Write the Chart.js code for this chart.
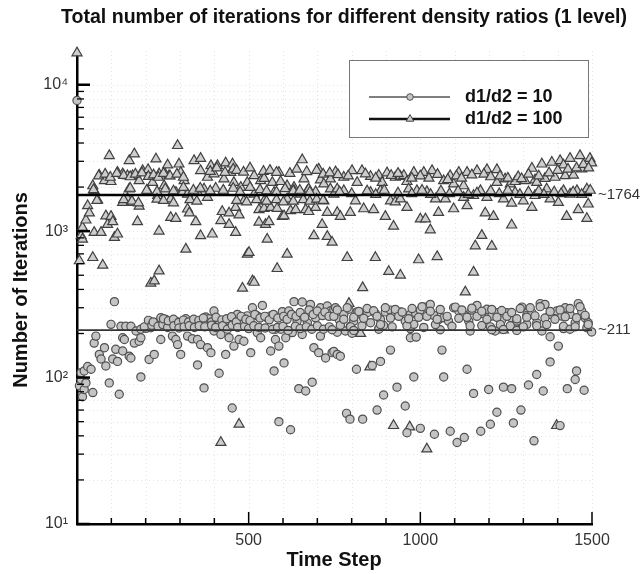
<!DOCTYPE html>
<html>
<head>
<meta charset="utf-8">
<script src="https://cdn.jsdelivr.net/npm/chart.js@4/dist/chart.umd.min.js"></script>
<style>
  html, body { margin: 0; padding: 0; background: #fff; }
  canvas { display: block; }
</style>
</head>
<body>
<canvas id="iterChart" width="640" height="574"></canvas>
<script>
// [time step, iterations]
const ratio10 = [
  [0,7800],[7,88],[12,97],[12,108],[16,74],[21,83],[21,111],[26,92],[31,119],[41,114],[46,79],
  [50,172],[55,192],[65,144],[70,134],[80,160],[84,120],[94,92],[99,231],[104,134],[109,330],
  [113,156],[118,129],[123,77],[128,224],[133,152],[133,187],[138,182],[142,224],[152,140],
  [157,224],[157,136],[167,172],[172,208],[181,177],[186,214],[186,187],[186,101],[201,217],
  [210,133],[215,219],[225,144],[230,226],[244,256],[244,182],[259,249],[273,237],[278,192],
  [288,243],[288,182],[293,168],[302,226],[302,144],[317,252],[322,192],[331,237],[336,184],
  [346,231],[351,182],[351,122],[360,231],[360,168],[370,85],[375,259],[380,160],[385,252],
  [390,148],[399,285],[399,208],[409,231],[414,107],[419,197],[428,237],[433,144],[443,243],
  [443,187],[452,62],[457,224],[457,164],[467,270],[472,182],[482,243],[486,177],[496,264],
  [506,148],[511,300],[525,264],[525,203],[535,187],[540,311],[554,256],[564,264],[564,152],
  [574,111],[578,214],[578,182],[588,164],[588,50],[593,214],[598,282],[603,126],[608,187],
  [617,285],[622,44],[627,203],[632,330],[641,243],[646,84],[656,328],[656,197],[666,81],
  [671,237],[680,316],[685,93],[690,160],[695,256],[704,148],[709,300],[709,192],[724,136],
  [729,308],[738,285],[743,148],[748,293],[748,151],[753,300],[758,204],[758,144],[763,250],
  [767,140],[777,270],[782,208],[785,57],[792,293],[795,52],[796,224],[801,201],[806,243],
  [814,114],[816,281],[830,266],[832,52],[845,277],[855,237],[860,121],[869,274],[874,60],
  [879,216],[884,249],[884,129],[893,227],[893,76],[898,281],[913,289],[913,154],[927,274],
  [932,86],[942,281],[956,243],[956,64],[961,42],[971,270],[971,216],[971,187],[981,231],
  [981,101],[986,277],[988,189],[1000,289],[1000,45],[1015,303],[1029,316],[1039,266],[1041,41],
  [1053,249],[1058,212],[1063,154],[1068,256],[1068,101],[1082,243],[1087,43],[1097,300],
  [1107,36],[1112,285],[1126,270],[1128,39],[1136,114],[1141,243],[1145,208],[1150,289],
  [1155,78],[1165,311],[1176,43],[1179,274],[1179,227],[1194,293],[1199,83],[1204,48],
  [1208,263],[1218,208],[1223,277],[1223,58],[1237,247],[1242,86],[1252,277],[1266,256],
  [1266,84],[1271,49],[1276,219],[1281,243],[1293,60],[1296,303],[1310,266],[1310,231],
  [1315,89],[1325,277],[1331,37],[1339,237],[1339,105],[1349,320],[1354,208],[1358,81],
  [1363,316],[1378,270],[1378,190],[1378,128],[1397,285],[1402,164],[1407,47],[1412,263],
  [1417,216],[1422,300],[1428,84],[1436,270],[1451,237],[1451,97],[1455,111],[1460,320],
  [1470,285],[1477,82],[1480,256],[1485,219],[1489,237],[1499,205],
  // dense band, left half
  [196,222],[208,246],[218,228],[222,240],[236,224],[250,230],[252,252],[264,220],[266,244],
  [281,250],[282,226],[296,238],[297,218],[310,247],[312,222],[325,240],[327,226],[340,250],
  [342,220],[355,246],[356,226],[368,255],[372,222],[392,240],[392,228],[404,220],[405,258],
  [422,248],[424,226],[436,252],[438,214],[450,260],[452,228],[464,240],[468,220],[478,262],
  [488,224],[492,250],[500,216],[504,245],[515,226],[518,270],[530,220],[533,255],[547,262],
  [548,218],[560,248],[570,214],[572,270],[584,220],[585,255],[600,224],[602,262],[612,250],
  [615,210],[625,270],[636,224],[638,262],[650,278],[650,216],[663,258],[668,222],[676,290],
  [684,214],[688,270],[700,285],[700,226],[715,265],[718,214],[722,280],[734,262],[735,222],
  // dense band, right half
  [743,212],[748,262],[758,290],[767,228],[777,250],[787,300],[797,222],[806,258],[806,210],
  [821,283],[830,226],[835,254],[845,296],[864,286],[874,262],[879,214],[884,230],[898,300],
  [913,255],[918,222],[927,292],[937,262],[947,280],[961,226],[966,252],[976,296],[995,258],
  [1005,305],[1010,220],[1019,262],[1029,284],[1044,230],[1049,250],[1058,292],[1078,262],
  [1092,224],[1102,303],[1112,254],[1121,290],[1136,258],[1145,226],[1150,298],[1165,262],
  [1179,284],[1194,250],[1204,222],[1208,292],[1208,212],[1223,258],[1233,230],[1237,287],
  [1242,213],[1252,262],[1262,226],[1266,278],[1281,252],[1281,210],[1291,296],[1300,222],
  [1310,258],[1320,300],[1334,264],[1339,226],[1349,305],[1363,255],[1368,230],[1378,283],
  [1392,250],[1407,290],[1417,224],[1422,260],[1436,296],[1436,214],[1451,222],[1455,256],
  [1465,305],[1480,266],[1489,230]
];

const ratio100 = [
  [0,16500],[7,627],[12,930],[16,1060],[16,880],[26,1190],[31,1490],[36,1330],[46,2040],[46,660],
  [50,1890],[50,980],[60,1630],[65,2410],[70,980],[75,585],[80,2210],[84,1270],[89,1110],
  [94,3280],[99,2180],[99,1260],[104,1160],[109,905],[118,2520],[118,955],[133,2460],[133,1570],
  [147,2390],[147,1670],[152,3030],[152,1940],[162,2390],[162,1570],[167,3370],[176,1160],
  [181,2210],[181,1480],[191,2590],[205,1890],[207,2630],[215,441],[220,2150],[225,457],
  [230,3110],[235,1750],[239,2460],[239,1000],[239,535],[254,2520],[254,2040],[264,2830],
  [268,2390],[273,1660],[273,1240],[288,1840],[288,1220],[293,3840],[297,2870],[302,2520],
  [307,1840],[312,2210],[317,753],[322,1790],[322,1415],[327,1330],[341,3030],[346,1160],
  [351,1840],[360,3140],[360,2590],[360,930],[370,1940],[380,2330],[380,1700],[390,2800],
  [394,955],[399,2460],[404,1960],[409,2800],[419,1180],[419,36],[423,1360],[428,2270],
  [428,1860],[433,2920],[443,1330],[443,1110],[448,2520],[453,2870],[457,2150],[462,1450],
  [462,980],[472,1290],[472,48],[477,1990],[482,407],[486,1610],[496,2150],[496,696],[501,715],
  [511,457],[516,2390],[516,1790],[516,447],[530,1400],[530,1150],[535,2210],[545,2290],
  [545,1610],[545,1430],[549,1110],[554,880],[559,1160],[564,1450],[569,2150],[574,1840],
  [583,1430],[583,555],[588,2520],[593,2180],[598,1260],[603,1270],[612,2040],[612,1660],
  [612,696],[622,1380],[632,1990],[632,1890],[637,1400],[651,1790],[656,3070],[661,2270],
  [666,1400],[671,1890],[675,1940],[675,1360],[690,930],[695,1860],[695,1450],[704,2650],
  [709,2240],[714,1110],[719,2100],[719,1610],[729,1340],[729,920],[738,2270],[738,1940],
  [743,840],[748,1790],[753,2540],[758,1940],[758,1340],[767,1260],[777,2330],[777,1890],
  [787,660],[792,321],[796,1340],[801,2590],[811,1610],[816,2150],[826,200],[830,2590],
  [832,411],[835,1420],[853,118],[855,2360],[855,1840],[864,1400],[869,660],[879,2410],
  [884,1890],[889,2150],[898,1260],[903,2500],[908,530],[913,1610],[922,1080],[922,47],
  [927,2330],[927,1580],[942,2360],[942,1660],[942,500],[952,2400],[961,2180],[961,1450],
  [966,1940],[969,46],[981,2520],[990,1890],[995,637],[1000,1210],[1010,2520],[1015,1210],
  [1019,1860],[1019,32.5],[1029,1020],[1034,2590],[1044,1660],[1049,670],[1053,1340],
  [1068,2210],[1073,1660],[1087,2390],[1097,2100],[1097,1420],[1112,2520],[1126,2040],
  [1126,1700],[1131,384],[1136,2520],[1136,1490],[1155,1750],[1155,525],[1160,793],[1165,2590],
  [1175,1890],[1179,935],[1189,1330],[1194,2630],[1194,1700],[1208,790],[1213,1260],[1223,2630],
  [1223,2150],[1242,1660],[1242,211],[1247,2270],[1262,2100],[1266,1550],[1266,1100],
  [1276,2180],[1276,1840],[1300,1610],[1305,2210],[1325,2685],[1325,1450],[1334,2240],
  [1334,1750],[1339,2150],[1354,2870],[1363,2290],[1368,1940],[1378,1660],[1383,2950],
  [1392,2330],[1397,47],[1402,1570],[1407,3030],[1417,2830],[1417,1890],[1422,2390],[1426,1260],
  [1436,3140],[1436,1790],[1446,2410],[1456,1890],[1460,1400],[1465,3280],[1470,2660],
  [1480,1840],[1485,1940],[1485,1220],[1489,1530],[1494,3140],[1499,2920],
  // dense band, left half
  [48,1920],[58,1620],[63,2380],[82,2450],[97,2330],[116,2480],[136,2400],[136,1640],
  [155,2350],[155,1960],[160,1600],[170,2450],[179,1560],[189,2500],[203,1900],[208,2360],
  [223,2420],[233,1860],[233,1650],[237,2330],[252,2480],[252,1620],[257,1940],[271,2380],
  [281,1880],[281,1560],[291,2450],[310,2330],[310,1990],[329,1640],[339,1900],[349,1600],
  [359,1960],[388,1880],[388,2560],[407,2700],[426,1900],[431,2520],[455,1960],[455,2650],
  [465,1620],[465,2600],[475,1850],[485,2530],[494,1580],[504,1990],[504,2700],[523,1640],
  [533,1920],[543,2560],[552,1880],[552,1600],[562,2600],[581,1850],[581,1640],[581,2520],
  [601,1580],[606,1950],[620,2480],[630,1880],[630,1600],[640,2650],[649,1900],[659,1640],
  [669,2550],[678,1850],[678,1600],[698,2600],[698,1650],[717,1620],[717,2450],[736,2500],
  // dense band, right half
  [760,2430],[765,1850],[790,2380],[800,1800],[840,2460],[845,1880],[870,2300],[870,1780],
  [895,1900],[915,2400],[935,2480],[935,1820],[975,2300],[975,1800],[1000,2380],[1005,1900],
  [1025,2300],[1030,1780],[1050,2440],[1060,1880],[1080,2250],[1085,1800],[1105,2380],
  [1110,1880],[1120,2300],[1140,1780],[1150,2420],[1165,1820],[1185,2450],[1205,2350],
  [1205,1880],[1230,1800],[1232,2380],[1255,2300],[1255,1900],[1285,2350],[1290,1780],
  [1295,2280],[1315,2450],[1315,1850],[1345,2380],[1345,1880],[1360,1780],[1375,2500],
  [1390,1850],[1400,2600],[1410,1800],[1430,2650],[1445,1850],[1455,2700],[1470,1780],
  [1475,2850],[1490,2700],[1495,1900]
];

const meanIters = [211, 1764];
const meanLabels = ['~211', '~1764'];
const stepRange = [0, 1500];
const stepTicks = [500, 1000, 1500];
const iterTicks = [10, 100, 1000, 10000];
const seriesNames = ['d1/d2 = 10', 'd1/d2 = 100'];

const SUP = { '1': '\u00b9', '2': '\u00b2', '3': '\u00b3', '4': '\u2074' };
const FONT = '"Liberation Sans", Arial, Helvetica, sans-serif';

Chart.defaults.font.family = FONT;

const circleStyle = { pointStyle: 'circle', pointRadius: 4.1, backgroundColor: '#c4c4c4', borderColor: '#505050', pointBorderWidth: 1.2 };
const triStyle = { pointStyle: 'triangle', pointRadius: 5.8, backgroundColor: '#cdcdcd', borderColor: '#404040', pointBorderWidth: 1.2 };

const decor = {
    id: 'decor',
    beforeDatasetsDraw(chart) {
        const { ctx, chartArea: a, scales: { x, y } } = chart;
        ctx.save();
        ctx.strokeStyle = 'rgba(0,0,0,0.10)';
        ctx.lineWidth = 1;
        ctx.setLineDash([1, 3]);
        for (let s = 100; s <= stepRange[1]; s += 100) {
            const px = Math.round(x.getPixelForValue(s)) + 0.5;
            ctx.beginPath(); ctx.moveTo(px, a.top); ctx.lineTo(px, a.bottom); ctx.stroke();
        }
        for (const d of iterTicks) {
            for (let m = 1; m <= 9; m++) {
                const v = d * m;
                if (v <= y.min || v >= y.max) continue;
                const py = Math.round(y.getPixelForValue(v)) + 0.5;
                ctx.beginPath(); ctx.moveTo(a.left, py); ctx.lineTo(a.right, py); ctx.stroke();
            }
        }
        ctx.restore();
    },
    afterDraw(chart) {
        const { ctx, chartArea: a, scales: { x, y } } = chart;
        ctx.save();

        // inward tick marks
        ctx.strokeStyle = '#000';
        ctx.lineWidth = 1.5;
        for (let s = 100; s <= stepRange[1]; s += 100) {
            const px = x.getPixelForValue(s);
            const len = s % 500 === 0 ? 12 : 6;
            ctx.beginPath(); ctx.moveTo(px, a.bottom); ctx.lineTo(px, a.bottom - len); ctx.stroke();
        }
        for (const d of iterTicks) {
            for (let m = 1; m <= 9; m++) {
                const v = d * m;
                if (v < y.min || v > y.max) continue;
                const py = y.getPixelForValue(v);
                const len = m === 1 ? 13 : 7;
                ctx.lineWidth = m === 1 ? 2.5 : 1.3;
                ctx.beginPath(); ctx.moveTo(a.left, py); ctx.lineTo(a.left + len, py); ctx.stroke();
            }
        }

        // mean labels on the right
        ctx.fillStyle = '#333';
        ctx.font = '15px ' + FONT;
        ctx.textBaseline = 'middle';
        ctx.textAlign = 'left';
        meanIters.forEach((v, i) => {
            ctx.fillText(meanLabels[i], a.right + 6, y.getPixelForValue(v));
        });

        // titles
        ctx.fillStyle = '#111';
        ctx.textAlign = 'center';
        ctx.textBaseline = 'alphabetic';
        ctx.font = 'bold 20px "Liberation Sans Narrow", ' + FONT;
        ctx.fillText('Total number of iterations for different density ratios (1 level)', 344, 23, 566);
        ctx.font = 'bold 20px ' + FONT;
        ctx.fillText('Time Step', 334, 566);
        ctx.save();
        ctx.translate(27, 290);
        ctx.rotate(-Math.PI / 2);
        ctx.fillText('Number of Iterations', 0, 0);
        ctx.restore();

        // legend box
        const bx = 349, by = 60, bw = 239, bh = 77;
        ctx.fillStyle = '#fff';
        ctx.fillRect(bx, by, bw, bh);
        ctx.strokeStyle = '#777';
        ctx.lineWidth = 1;
        ctx.strokeRect(bx + 0.5, by + 0.5, bw, bh);
        const rows = [
            { y: 97, lw: 1.5, lc: '#555', style: circleStyle, r: 3.3 },
            { y: 119, lw: 2.5, lc: '#111', style: triStyle, r: 4.4 }
        ];
        rows.forEach((row, i) => {
            ctx.strokeStyle = row.lc;
            ctx.lineWidth = row.lw;
            ctx.beginPath(); ctx.moveTo(369, row.y); ctx.lineTo(450, row.y); ctx.stroke();
            ctx.fillStyle = row.style.backgroundColor;
            ctx.strokeStyle = row.style.borderColor;
            ctx.lineWidth = 1;
            Chart.helpers.drawPoint(ctx, { pointStyle: row.style.pointStyle, radius: row.r, borderWidth: 1, rotation: 0 }, 410, row.y);
            ctx.fillStyle = '#111';
            ctx.font = 'bold 18px ' + FONT;
            ctx.textAlign = 'left';
            ctx.textBaseline = 'middle';
            ctx.fillText(seriesNames[i], 465, row.y);
        });

        ctx.restore();
    }
};

new Chart(document.getElementById('iterChart'), {
    type: 'scatter',
    data: {
        datasets: [
            {
                type: 'line',
                data: stepRange.map(s => ({ x: s, y: meanIters[1] })),
                borderColor: '#000',
                borderWidth: 2.5,
                pointRadius: 0,
                order: 0,
            },
            {
                type: 'line',
                data: stepRange.map(s => ({ x: s, y: meanIters[0] })),
                borderColor: '#333',
                borderWidth: 1.6,
                pointRadius: 0,
                order: 0,
            },
            {
                label: seriesNames[0],
                data: ratio10.map(([s, v]) => ({ x: s, y: v })),
                ...circleStyle,
                clip: false,
                order: 1,
            },
            {
                label: seriesNames[1],
                data: ratio100.map(([s, v]) => ({ x: s, y: v })),
                ...triStyle,
                clip: false,
                order: 2,
            },
        ],
    },
    options: {
        responsive: false,
        animation: false,
        events: [],
        layout: { padding: { left: 0, top: 51, right: 48, bottom: 0 } },
        plugins: {
            legend: { display: false },
            tooltip: { enabled: false },
            title: { display: false },
        },
        scales: {
            x: {
                type: 'linear',
                min: stepRange[0],
                max: stepRange[1],
                grid: { display: false, drawTicks: false },
                border: { display: true, color: '#000', width: 2.5 },
                afterBuildTicks: (scale) => { scale.ticks = stepTicks.map(v => ({ value: v })); },
                afterFit: (scale) => { scale.height = 50; },
                ticks: { color: '#333', font: { size: 16 }, padding: 7, maxRotation: 0, callback: (v) => String(v) },
            },
            y: {
                type: 'logarithmic',
                min: 10,
                max: 17000,
                grid: { display: false, drawTicks: false },
                border: { display: true, color: '#000', width: 2.5 },
                afterBuildTicks: (scale) => { scale.ticks = iterTicks.map(v => ({ value: v })); },
                afterFit: (scale) => { scale.width = 77; },
                ticks: {
                    color: '#333',
                    font: { size: 16 },
                    padding: 9,
                    callback: (v) => '10' + SUP[String(Math.round(Math.log10(v)))],
                },
            },
        },
    },
    plugins: [decor],
});
</script>
</body>
</html>
